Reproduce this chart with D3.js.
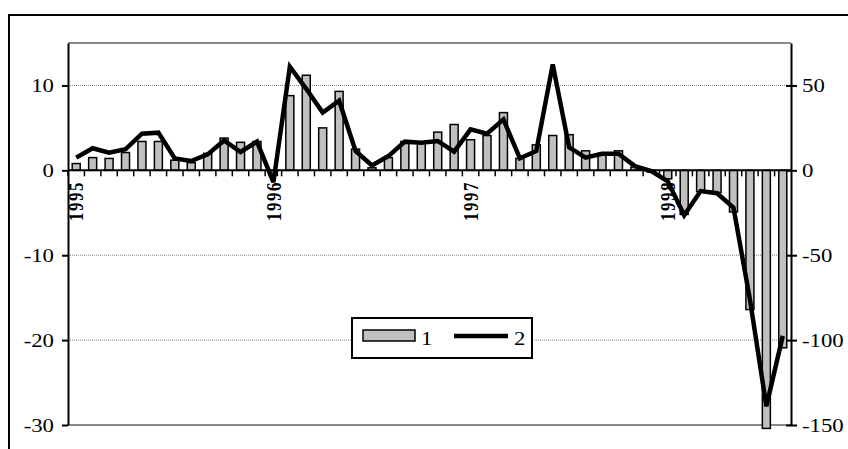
<!DOCTYPE html>
<html>
<head>
<meta charset="utf-8">
<script src="https://cdn.jsdelivr.net/npm/d3@7"></script>
<style>
  html, body { margin: 0; padding: 0; background: #fff; }
  svg { display: block; }
  text { font-family: "Liberation Serif", "Times New Roman", serif; fill: #000; }
</style>
</head>
<body>
<svg id="chart" width="848" height="449"></svg>
<script>
// ---------------- DATA ----------------
const categories = [
  "1995-01","1995-02","1995-03","1995-04","1995-05","1995-06","1995-07","1995-08","1995-09","1995-10","1995-11","1995-12",
  "1996-01","1996-02","1996-03","1996-04","1996-05","1996-06","1996-07","1996-08","1996-09","1996-10","1996-11","1996-12",
  "1997-01","1997-02","1997-03","1997-04","1997-05","1997-06","1997-07","1997-08","1997-09","1997-10","1997-11","1997-12",
  "1998-01","1998-02","1998-03","1998-04","1998-05","1998-06","1998-07","1998-08"
];
// series 1 (bars, left axis)
const series1 = [
  0.8, 1.5, 1.4, 2.1, 3.4, 3.4, 1.2, 0.9, 2.0, 3.8, 3.3, 3.4,
  -0.6, 8.8, 11.2, 5.0, 9.3, 2.5, 0.3, 1.5, 3.4, 3.3, 4.5, 5.4,
  3.6, 4.1, 6.8, 1.4, 3.0, 4.1, 4.2, 2.3, 2.0, 2.3, 0.4, -0.2,
  -1.0, -5.2, -2.5, -2.6, -4.9, -16.4, -30.4, -20.9
];
// series 2 (line, right axis)
const series2 = [
  7.5, 13, 10.4, 12.4, 21.6, 22.2, 7, 5.5, 9.4, 17.6, 10.8, 16.9,
  -7, 61, 48, 34, 41, 11.4, 2.9, 8.4, 16.9, 16.3, 17.3, 11,
  24.1, 21.6, 30, 7.1, 11.4, 62.4, 13.5, 7.5, 9.8, 9.8, 2.5, -0.4,
  -6.5, -26.5, -12.2, -13.5, -22, -76, -139, -97.5
];
const yearLabels = ["1995", "1996", "1997", "1998"];
const yearLabelCategories = ["1995-01", "1996-01", "1997-01", "1998-01"];
const leftTicks = [-30, -20, -10, 0, 10];
const rightTicks = [-150, -100, -50, 0, 50];
const legendLabels = ["1", "2"];

// ---------------- LAYOUT ----------------
const L = 68, R = 791, T = 43, B = 425;
const svg = d3.select("#chart");

const x = d3.scaleBand().domain(categories).range([L, R]).padding(0);
const yL = d3.scaleLinear().domain([-30, 15]).range([B, T]);
const yR = d3.scaleLinear().domain([-150, 75]).range([B, T]);

// outer frame
svg.append("rect").attr("x", 9).attr("y", 15).attr("width", 860).attr("height", 460)
  .attr("fill", "none").attr("stroke", "#000").attr("stroke-width", 2);

// gridlines (dotted)
svg.append("g").selectAll("line").data(leftTicks.filter(d => d !== 0 && d !== -30)).join("line")
  .attr("x1", L).attr("x2", R).attr("y1", d => yL(d)).attr("y2", d => yL(d))
  .attr("stroke", "#808080").attr("stroke-width", 1).attr("stroke-dasharray", "1,1");

// top and bottom plot edges (gray)
svg.append("line").attr("x1", L).attr("x2", R).attr("y1", yL(15)).attr("y2", yL(15))
  .attr("stroke", "#8a8a8a").attr("stroke-width", 2);
svg.append("line").attr("x1", L).attr("x2", R).attr("y1", yL(-30)).attr("y2", yL(-30))
  .attr("stroke", "#8a8a8a").attr("stroke-width", 2);

// year labels (under the marks)
const SX = 1.2;
svg.append("g").selectAll("text").data(yearLabels).join("text")
  .attr("transform", (d, i) => {
    const cx = x(yearLabelCategories[i]) + x.bandwidth() / 2;
    return `translate(${cx},181) scale(${SX},1) rotate(-90)`;
  })
  .attr("text-anchor", "end")
  .attr("dy", "0.35em")
  .attr("font-size", 17)
  .attr("font-weight", "bold")
  .attr("letter-spacing", 1.5)
  .text(d => d);

// bars
const bw = 8;
svg.append("g").selectAll("rect").data(series1).join("rect")
  .attr("x", (d, i) => x(categories[i]) + x.bandwidth() / 2 - bw / 2)
  .attr("width", bw)
  .attr("y", d => Math.min(yL(d), yL(0)))
  .attr("height", d => Math.abs(yL(d) - yL(0)))
  .attr("fill", "#c0c0c0")
  .attr("stroke", "#000")
  .attr("stroke-width", 1.5);

// x axis (zero line) with ticks at category boundaries
const xAxis = d3.axisBottom(x).tickSize(6).tickFormat("");
const xg = svg.append("g").attr("transform", `translate(0,${yL(0)})`).call(xAxis);
xg.select(".domain").remove();
xg.selectAll(".tick").attr("transform", d => `translate(${x(d)},0)`);
xg.selectAll(".tick line").attr("stroke", "#000").attr("stroke-width", 1.5);
svg.append("line").attr("x1", L).attr("x2", R).attr("y1", yL(0)).attr("y2", yL(0))
  .attr("stroke", "#000").attr("stroke-width", 2);

// line series
const line = d3.line()
  .x((d, i) => x(categories[i]) + x.bandwidth() / 2)
  .y(d => yR(d));
svg.append("path").datum(series2)
  .attr("d", line)
  .attr("fill", "none")
  .attr("stroke", "#000")
  .attr("stroke-width", 4.5)
  .attr("stroke-linejoin", "miter")
  .attr("stroke-miterlimit", 3);

// left axis
const gl = svg.append("g").attr("transform", `translate(${L},0)`)
  .call(d3.axisLeft(yL).tickValues(leftTicks).tickSize(6).tickSizeOuter(0).tickFormat(d3.format("d")));
gl.select(".domain").attr("stroke", "#000").attr("stroke-width", 2);
gl.selectAll(".tick line").attr("stroke", "#000").attr("stroke-width", 2);
gl.selectAll(".tick text").remove();
svg.append("g").selectAll("text").data(leftTicks).join("text")
  .attr("transform", d => `translate(54,${yL(d)}) scale(${SX},1)`)
  .attr("text-anchor", "end").attr("dy", "0.35em").attr("font-size", 19)
  .text(d => d3.format("d")(d).replace("−", "-"));

// right axis
const gr = svg.append("g").attr("transform", `translate(${R},0)`)
  .call(d3.axisRight(yR).tickValues(rightTicks).tickSize(6).tickSizeOuter(0).tickFormat(d3.format("d")));
gr.select(".domain").attr("stroke", "#000").attr("stroke-width", 2);
gr.selectAll(".tick line").attr("x1", -5).attr("stroke", "#000").attr("stroke-width", 2);
gr.selectAll(".tick text").remove();
svg.append("g").selectAll("text").data(rightTicks).join("text")
  .attr("transform", d => `translate(802,${yR(d)}) scale(${SX},1)`)
  .attr("text-anchor", "start").attr("dy", "0.35em").attr("font-size", 19)
  .text(d => d3.format("d")(d).replace("−", "-"));

// legend
const lg = svg.append("g");
lg.append("rect").attr("x", 352).attr("y", 318).attr("width", 180).attr("height", 40)
  .attr("fill", "#fff").attr("stroke", "#000").attr("stroke-width", 2);
lg.append("rect").attr("x", 363).attr("y", 330).attr("width", 52).attr("height", 11)
  .attr("fill", "#c0c0c0").attr("stroke", "#000").attr("stroke-width", 1.5);
lg.append("text").attr("transform", `translate(421,338) scale(${SX},1)`).attr("dy", "0.35em")
  .attr("font-size", 19).text(legendLabels[0]);
lg.append("line").attr("x1", 454).attr("x2", 508).attr("y1", 336).attr("y2", 336)
  .attr("stroke", "#000").attr("stroke-width", 4.5);
lg.append("text").attr("transform", `translate(514,338) scale(${SX},1)`).attr("dy", "0.35em")
  .attr("font-size", 19).text(legendLabels[1]);
</script>
</body>
</html>
